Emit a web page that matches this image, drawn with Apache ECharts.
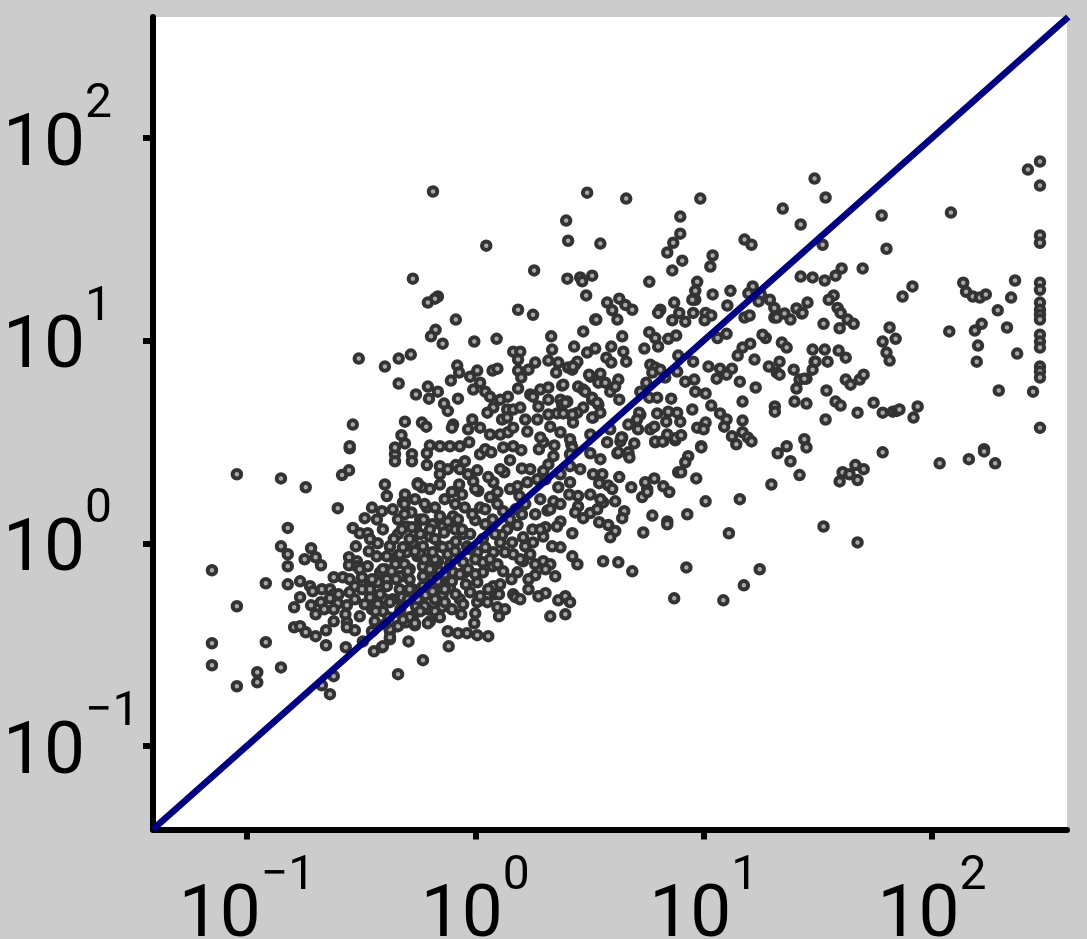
<!DOCTYPE html>
<html><head><meta charset="utf-8">
<style>html,body{margin:0;padding:0;background:#ccc}#c{width:1087px;height:939px}</style>
<script src="https://cdn.jsdelivr.net/npm/echarts@6/dist/echarts.min.js"></script>
</head><body><div id="c"></div>
<script>
const tickValues = [0.1, 1, 10, 100];
const tickExponents = {0.1: '\u22121', 1: '0', 10: '1', 100: '2'};
const xRange = [0.0388, 390];
const yRange = [0.0387, 395];
const identityLine = [[0.0388, 0.0388], [395, 395]];
const pointsLower = [[.0904,2.19],[.141,2.09],[.181,1.89],[.282,2.94],[.28,2.29],[.261,2.17],[.402,1.95],[.41,1.71],[.56,1.98],[.584,1.89],[.25,1.49],[.353,1.5],[.39,1.44],[.328,1.33],[.371,1.31],[.492,1.74],[.482,1.59],[.151,1.19],[.141,.966],[.151,.883],[.191,.945],[.2,.853],[.179,.834],[.211,.779],[.151,.77],[.291,1.19],[.312,1.12],[.338,1.12],[.3,.966],[.342,.913],[.374,1],[.423,.966],[.28,.853],[.28,.779],[.303,.815],[.303,.77],[.338,.77],[.0703,.736],[.121,.635],[.151,.627],[.171,.649],[.24,.68],[.263,.68],[.319,.68],[.402,.744],[.189,.614],[.194,.58],[.213,.593],[.231,.593],[.24,.56],[.171,.542],[.231,.535],[.211,.512],[.25,.506],[.274,.494],[.282,.573],[.297,.614],[.161,.483],[.191,.494],[.2,.446],[.0904,.489],[.24,.412],[.161,.385],[.171,.39],[.181,.364],[.2,.348],[.222,.372],[.274,.408],[.274,.385],[.0703,.321],[.121,.325],[.222,.314],[.271,.307],[.322,.328],[.0703,.25],[.141,.244],[.111,.231],[.111,.206],[.0904,.197],[.24,.221],[.213,.199],[.231,.18],[.459,.226],[.59,.265],[.51,.328],[.36,.293],[.39,.307],[.423,.336],[.423,.368],[.328,.5],[.353,.472],[.374,.5],[.394,.462],[.346,.542],[.366,.462],[.346,.642],[.374,.642],[.41,.664],[.477,.687],[.516,.664],[.312,.436],[.454,.39],[.492,.408],[.533,.436],[.544,.394],[.435,.529],[.346,.593],[.402,.529],[.47,.472],[.417,.431],[.363,.412],[.37,.862],[.41,.862],[.454,.862],[.5,.903],[.558,.862],[.59,.966],[.383,.719],[.447,.788],[.516,.744],[.6,.703]];
const pointsCore = [[.492,3.11],[.445,2.75],[.445,2.54],[.528,2.75],[.528,2.54],[.633,3.04],[.7,3.01],[.774,3.01],[.856,3.01],[.94,3.15],[.614,2.78],[.614,2.43],[.7,2.4],[.758,2.32],[.822,2.43],[.9,2.54],[1.05,2.75],[1.106,2.91],[1.175,2.81],[1.326,2.97],[1.466,3.01],[1.59,2.88],[1.42,2.57],[1.9,2.91],[2.22,3.04],[1.985,3.15],[2.63,3.08],[3.19,2.78],[3.78,3.15],[4.32,3.18],[4.97,3.11],[4.19,2.78],[4.68,2.75],[6.14,3.15],[6.66,3.18],[7.51,3.22],[1.02,2.29],[.93,2.19],[.98,2.02],[1.03,1.81],[1.34,2.24],[1.2,2],[1.25,1.79],[1.6,2.34],[1.53,1.91],[1.69,2],[1.87,2.07],[1.985,2.27],[2.09,2.45],[2.2,2.69],[2.6,2.4],[2.88,2.32],[2.6,2],[2.31,1.89],[2.58,1.74],[2.82,1.71],[3.28,2.19],[3.6,2.19],[3.49,1.98],[3.82,1.93],[4.27,2.12],[4.82,1.89],[5.38,1.69],[5.66,1.85],[5.55,2],[6.08,2.09],[6.66,1.91],[7.07,1.79],[7.74,2.24],[.56,1.95],[.7,1.95],[.85,1.95],[.79,1.79],[.875,1.74],[1.926,1.65],[2.2,1.61],[2.07,1.45],[1.56,1.71],[2.82,1.52],[2.74,1.42],[2.97,1.33],[3.19,1.41],[3.42,1.47],[3.63,1.59],[4.1,1.61],[4.49,1.44],[4.4,1.33],[5.96,1.37],[6.93,1.28],[6.93,1.24],[3.49,1.27],[3.82,1.23],[4.1,1.15],[3.9,1.07],[5.44,1.13],[2.66,1.12],[2.36,1.28],[2.28,1.21],[2.03,1.2],[1.78,1.17],[2.36,.955],[2.17,.966],[1.985,1.08],[1.79,1.01],[1.655,.966],[1.62,1.07],[1.53,1.23],[1.6,1.39],[1.38,1.17],[1.31,1.1],[1.286,1.01],[1.45,1.01],[1.35,.903],[1.466,.883],[1.74,.883],[1.62,.815],[1.985,.815],[2.66,.862],[2.8,.788],[3.63,.815],[4.23,.806],[4.87,.727],[7.43,.535],[2.24,.687],[1.83,.695],[1.71,.664],[1.53,.719],[1.44,.664],[1.71,.593],[2.03,.567],[1.89,.548],[1.466,.56],[1.5,.542],[2.31,.523],[2.48,.548],[2.6,.512],[2.48,.446],[2.13,.436],[1.25,.483],[1.27,.436],[1,.451],[.868,.446],[.99,.403],[.758,.368],[.84,.36],[.92,.36],[1.02,.352],[1.14,.348],[.765,.31],[.394,.31],[.423,.344],[.423,.377],[.459,.39],[.5,.408],[.516,.431],[.544,.403],[.633,.412],[.55,.489],[.714,.483],[.666,.529],[.72,.56],[.774,.606],[.714,.627],[.62,.472],[.95,.573],[1.02,.512],[1.13,.512],[1.22,.56],[1.27,.56],[1.19,.77],[1.2,.614],[1.02,.642],[.9,.719],[1.08,.719],[1.2,.903],[1.02,.903],[.885,.806],[1.08,.806],[.8,1.36],[.72,1.21],[.885,1.11],[1,1.3],[1.05,1.5],[1.25,1.56],[1.19,1.31],[.92,.966],[.774,.966],[.7,.966],[.633,1.08],[.7,1.36],[.614,1.5],[.525,1.42],[.459,1.11],[.5,1.21],[.574,1.11],[.533,1.01],[.423,.966],[.574,.883],[.467,.883],[.394,.744],[.467,.687],[.59,.77],[.686,.815],[.72,.955],[.533,.593],[.467,.593],[.41,.614],[.423,.512],[.467,.529],[.59,.614],[.59,.687],[.8,.719],[.633,.744],[.735,.593],[.856,.529],[.666,.834],[.774,.788],[.49,.788],[.817,1.17],[.65,1.24],[.574,1.31],[.49,1.39],[.95,1.11],[1.106,1.24]];
const pointsDense = [[.435,1.47],[.459,1.31],[.477,1.17],[.44,1.05],[.482,.955],[.516,1.05],[.55,1.2],[.594,1.31],[.633,1.17],[.666,1.05],[.73,1.13],[.758,1.28],[.84,1.31],[.875,1.17],[.822,1.02],[.758,.883],[.7,.727],[.65,.664],[.6,.834],[.544,.913],[.507,.727],[.45,.664],[.43,.727],[.477,.542],[.516,.593],[.56,.529],[.606,.555],[.65,.58],[.686,.649],[.735,.703],[.79,.649],[.856,.703],[.93,.744],[1,.834],[.95,.934],[1.106,.955],[1.16,.834],[1.25,.788],[1.326,.727],[1.286,.627],[1.14,.593],[1.05,.548],[.91,.627],[.82,.56],[.735,.512],[.666,.462],[.6,.489],[.79,.472],[.885,.5],[1,.703],[.817,.913],[.65,.903],[.528,1.2],[.49,1.56],[.544,1.65],[.6,1.56],[.666,1.5],[.735,1.65],[.817,1.56],[.9,1.5],[.97,1.39],[1.106,1.47],[1.16,1.69],[1.326,1.44],[1.42,1.31],[1.22,1.11],[1.08,1.05],[1.5,1.47],[1.655,1.56],[1.83,1.39],[1.926,1.17],[2.13,1.47],[2.36,1.56],[1,1.85],[1.14,2.12],[1.286,2.32],[1.42,1.85],[1.74,2.32],[2.03,2.07],[.7,2.19],[.856,2.32],[.633,1.85],[.383,.56],[.353,.664],[.319,.593],[.297,.529],[.402,.398],[.482,.42],[.574,.462],[.62,.403],[.7,.431],[.346,1.05],[.394,1.17],[.312,.744],[.282,.664],[.252,.56],[.218,.472],[.24,.472],[.27,.446],[.297,.372],[.353,.368],[.507,.529],[1.574,.834],[1.83,.788],[2.13,.788],[1.35,.472],[1.574,.529],[2.03,.744],[3.19,1.74],[3.53,1.65],[3.98,1.85],[2.36,2.19],[3.53,2.6],[3.19,3.44],[5.84,3.65],[4.27,5.11],[5.28,4.3],[1.926,5.73],[1.655,4.08],[2.36,5.11]];
const pointsUpper = [[.653,54.4],[3.09,53.7],[2.5,39.1],[2.55,31.1],[1.117,29.4],[3.53,30.1],[1.81,22.2],[.533,20.2],[2.53,20.2],[2.88,20.5],[2.94,19.6],[3.25,20.9],[3.06,16.7],[.686,16.5],[.666,16.1],[.62,15.4],[1.54,14.2],[1.79,13.4],[.822,12.7],[3.35,12.7],[.67,11.3],[.64,10.5],[.72,9.66],[.99,9.9],[1.24,10.2],[2.15,10.5],[2.97,11.1],[2.71,9.34],[2.17,9.03],[.309,8.15],[.402,7.44],[.462,8.15],[.522,8.53],[1.466,8.82],[1.574,8.82],[1.54,8.06],[3.09,8.73],[3.35,9.13],[2.09,7.97],[2.31,7.79],[2.26,6.95],[2.55,7.36],[2.74,7.61],[2.8,7.87],[2.66,7.19],[.834,7.53],[.85,6.95],[.782,6.35],[.95,6.64],[1.02,7.11],[1.19,7.11],[1.25,7.27],[1.54,7.11],[1.71,7.19],[1.83,7.79],[1.59,6.57],[.462,6.14],[.62,5.93],[.686,5.6],[.55,5.42],[.627,5.17],[.84,5.17],[.73,4.89],[.758,4.5],[1.05,6.2],[.98,5.73],[1.106,5.6],[1.16,5.29],[1.54,5.8],[1.74,5.42],[1.79,5.29],[2.09,5.87],[2.09,5.11],[2.4,6],[2.82,5.93],[2.97,5.73],[3.19,6.64],[3.46,6.2],[1.39,5.29],[1.286,5.11],[1.2,4.67],[1.13,4.41],[1.38,4.57],[1.466,4.57],[1.574,4.67],[1.31,4.08],[1.38,4.17],[1.89,4.73],[1.87,4.08],[2.09,4.32],[2.28,4.37],[2.43,4.37],[2.53,5],[2.4,4.83],[2.66,4.22],[2.68,3.94],[2.97,4.67],[2.8,4.41],[3.25,5.11],[3.28,4.17],[3.46,4.83],[.492,3.98],[.291,3.85],[.584,3.94],[.61,3.76],[.8,3.85],[.79,3.72],[.97,4.08],[.93,3.65],[1.05,3.72],[1.16,3.44],[1.286,3.44],[1.39,3.53],[1.466,3.72],[1.69,3.56],[2.13,3.76],[2.36,3.53],[1.926,3.33],[2.6,3.26],[.475,3.41],[.282,3.01],[.445,2.97]];
const pointsMiddle = [[4.58,50.2],[9.67,50.2],[22.2,44.8],[30.6,63],[26.6,37.4],[7.9,40.9],[7.9,33.7],[7.36,30.4],[6.93,27.2],[15.1,31.5],[16.2,29.7],[10.95,26.3],[10.7,23.2],[8.06,24.8],[7.29,22.2],[5.78,19.5],[9.37,19.5],[9.19,17.6],[9.19,15.9],[8.92,15.9],[10.95,16.9],[13.1,17.6],[16.4,18.5],[15.7,17.1],[17.8,16.9],[17.4,15.6],[19.5,15.9],[20.4,14.5],[20.4,13],[20.9,13],[22.6,13.6],[24,12.7],[25.5,14.4],[26.9,13.6],[28.5,15.4],[26.6,20.7],[30,20.5],[12.7,14.9],[10.2,13.7],[10.8,13.3],[10.1,12.6],[9,13.7],[8.31,12.4],[7.82,13.7],[7.29,12.6],[7.43,15.4],[6.46,14.2],[6.32,13.7],[15.1,13],[15.9,13.3],[3.78,15.4],[4.27,16.1],[4.54,15],[4.87,14.2],[3.98,14.1],[4.19,12.7],[3.39,12.7],[4.4,10.5],[3.94,9.34],[3.75,8.24],[3.94,7.79],[4.45,8.82],[4.58,7.87],[5.78,11],[6.14,10.3],[6.32,9.34],[5.5,9.13],[7,10.2],[7.58,10.6],[7.74,8.43],[9,7.87],[12.6,10.8],[11.5,10.3],[18.7,10.3],[18.1,10.7],[22,9.78],[23.1,9.24],[16,9.66],[14.8,9.24],[14.1,8.43],[16.7,8.06],[30,9.03],[30.6,7.87],[30,7.19],[10.5,7.44],[11.8,7.27],[13.3,7.27],[12.6,6.79],[11.4,6.49],[14.4,6.27],[16.9,5.87],[19.3,7.44],[21.5,7.87],[20.9,6.95],[21.5,6.79],[24.8,7.19],[26.3,6.42],[28.2,6.49],[25.5,5.8],[25,5],[28.2,4.89],[20.5,4.73],[20.5,4.46],[14.8,5],[5.84,7.61],[6.14,7.36],[5.96,6.95],[6.46,7.19],[6.79,6.57],[7.66,7.03],[8.31,6.27],[9.1,6.42],[9.19,5.6],[10.2,5.48],[10.8,4.78],[11.8,4.37],[12.6,4.08],[12.3,3.76],[13.3,3.37],[13.9,3.08],[14.8,4.03],[14.8,3.53],[15.6,3.33],[16.2,3.18],[8.92,4.57],[7.21,5.17],[5.61,6.2],[5.28,5.6],[5.78,5.23],[6.26,5.23],[6.26,4.37],[7,4.46],[7.66,4.41],[7.9,3.98],[6.86,3.98],[6.08,3.76],[6.93,3.44],[6.14,3.18],[6.6,3.18],[7.51,3.3],[7.97,3.41],[10.2,3.94],[9.37,3.72],[10,3.65],[9.76,3.01],[23.1,3.01],[27.6,3.26],[5.22,4.41],[4.68,3.85],[5.11,4.08],[5.16,3.65],[4.4,3.33],[3.9,3.65],[3.15,6.79],[3.53,6.87],[4.23,6.42],[2.43,6.06],[3.9,5.6],[3.03,5.6],[3.25,5.23],[3.42,4.94],[3.53,4.41],[3.25,4.17],[2.66,4.32],[2.48,4.94],[2.68,7.44],[3.71,6.2],[4.1,5.93]];
const pointsRight = [[34.2,50.8],[297,76.5],[263,69.8],[297,58.2],[121,42.8],[60.2,41.4],[297,33],[297,30.4],[33.2,29.7],[63.2,28.4],[49.7,22.7],[40.2,22.7],[37.8,20.9],[33.9,19.8],[231,19.8],[137,19.3],[141,17.4],[151,16.5],[162,16.3],[172,16.9],[297,19.3],[297,17.8],[82.1,18.5],[74.3,16.5],[222,16.3],[297,15.4],[297,14.2],[297,13.4],[297,12.7],[194,14.1],[165,12.1],[213,11.6],[154,11.2],[119,11.1],[297,10.7],[297,9.89],[297,9.24],[159,9.45],[236,8.63],[157,7.87],[297,7.44],[297,7.03],[297,6.57],[196,5.67],[277,5.6],[297,3.71],[37.1,16.7],[35.3,15.9],[27.1,13.7],[38.6,14.5],[39.8,13.7],[42.7,12.7],[45.4,12.1],[33.5,12.1],[39.4,11.5],[65.2,11.6],[69.3,10.2],[60.8,9.89],[63.2,8.73],[65.2,7.97],[33.9,9.03],[39,8.93],[41.9,8.24],[30.9,7.87],[34.9,7.87],[27.6,6.49],[41.9,6.42],[44,6.06],[48.2,6.42],[50.2,6.79],[34.5,5.67],[37.8,5],[39.8,4.78],[55.5,4.94],[47.2,4.41],[60.8,4.41],[67.3,4.46],[70,4.5],[72,4.57],[86.5,4.73],[83,4.17],[34.2,4.08],[28.2,2.97],[60.8,2.81],[169,2.91],[21.1,2.78],[24,2.54],[26.3,2.17],[19.8,1.95],[9.76,2.97],[8.56,2.69],[8.31,2.51],[7.97,2.24],[9.28,2.09],[5.66,1.79],[14.4,1.65],[10.2,1.61],[8.48,1.39],[40.6,2.24],[43.5,2.19],[39.4,2.02],[46.2,2.43],[50.2,2.32],[47.2,2.05],[33.5,1.21],[12.9,1.12],[47.2,1.01],[17.6,.744],[8.4,.76],[15,.62],[12.2,.523],[108,2.48],[145,2.6],[169,2.84],[189,2.48],[2.66,2.97],[2.6,2.75],[4.36,3.33],[4.23,2.81],[4.68,2.81],[4.73,2.65]];
const allPoints = [...pointsLower, ...pointsCore, ...pointsDense, ...pointsUpper, ...pointsMiddle, ...pointsRight];

const labelRich = {
  base: {fontFamily: 'Roboto', fontSize: 73, color: '#000', lineHeight: 90, verticalAlign: 'bottom'},
  sup: {fontFamily: 'Roboto', fontSize: 48, color: '#000', lineHeight: 90, verticalAlign: 'bottom', padding: [0, 0, 54, 0]}
};
const fmt = v => '{base|10}{sup|' + tickExponents[v] + '}';
const chart = echarts.init(document.getElementById('c'), null, {renderer: 'canvas'});
const axisCommon = {
  type: 'log', logBase: 10,
  splitLine: {show: false}, minorTick: {show: false}, minorSplitLine: {show: false},
  axisLine: {show: true, onZero: false, lineStyle: {color: '#000', width: 6}},
  axisTick: {show: true, inside: false, length: 10, lineStyle: {color: '#000', width: 6}, customValues: tickValues}
};
chart.setOption({
  animation: false,
  backgroundColor: '#cccccc',
  grid: {left: 153, right: 20, top: 17, bottom: 109.5, show: true, backgroundColor: '#ffffff', borderWidth: 0, outerBoundsMode: 'none'},
  xAxis: Object.assign({}, axisCommon, {min: xRange[0], max: xRange[1],
    axisLabel: {customValues: tickValues, formatter: fmt, rich: labelRich, margin: 35, hideOverlap: false}}),
  yAxis: Object.assign({}, axisCommon, {min: yRange[0], max: yRange[1],
    axisLabel: {customValues: tickValues, formatter: fmt, rich: labelRich, margin: 150, align: 'left', hideOverlap: false}}),
  series: [
    {type: 'scatter', data: allPoints, symbol: 'circle', symbolSize: 8.5, z: 2, silent: true,
     itemStyle: {color: '#a8a8a8', borderColor: '#333333', borderWidth: 4, opacity: 1}},
    {type: 'line', data: identityLine, symbol: 'none', z: 3, clip: true, silent: true,
     lineStyle: {color: '#000080', width: 6.5}}
  ]
});
</script></body></html>
